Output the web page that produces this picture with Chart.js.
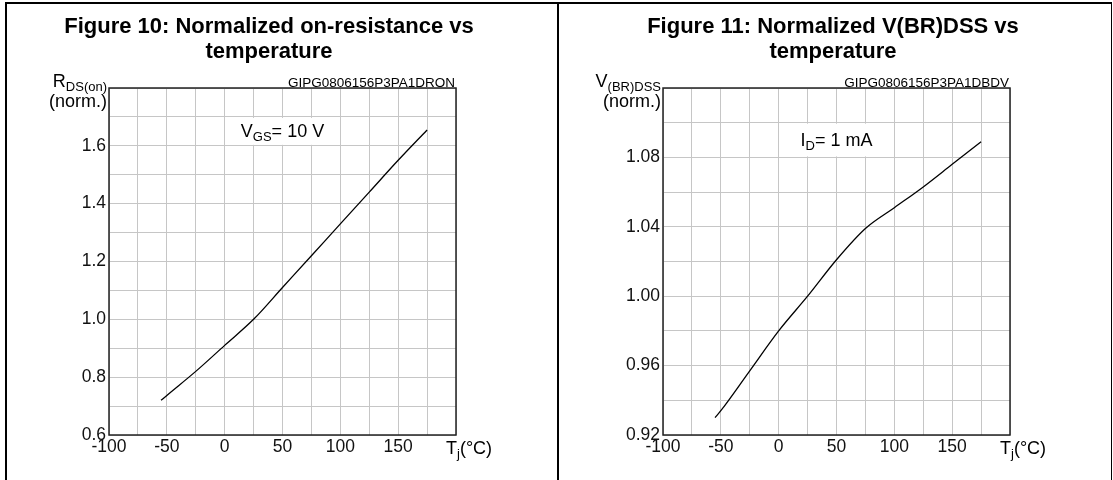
<!DOCTYPE html>
<html>
<head>
<meta charset="utf-8">
<script src="https://cdn.jsdelivr.net/npm/chart.js@4.4.1/dist/chart.umd.min.js"></script>
<style>
    body { margin: 0; background: #fff; width: 1113px; height: 480px; overflow: hidden; position: relative; }
    .panel { position: absolute; top: 0; height: 480px; }
    #frame { position: absolute; left: 5px; top: 2px; width: 1107px; height: 500px; border: 2px solid #000; border-right-width: 1px; box-sizing: border-box; }
    #divider { position: absolute; left: 557px; top: 2px; width: 2px; height: 480px; background: #000; }
</style>
</head>
<body>
<div class="panel" style="left:0;width:556px"><canvas id="chart10" width="556" height="480"></canvas></div>
<div class="panel" style="left:556px;width:557px"><canvas id="chart11" width="557" height="480"></canvas></div>
<div id="frame"></div>
<div id="divider"></div>
<script>
// Figure 10 – normalized on-resistance
const tempRds = [-55, -50, -25, 0, 25, 50, 75, 100, 125, 150, 175];
const rdsNorm = [0.72, 0.737, 0.82, 0.91, 1.0, 1.11, 1.22, 1.33, 1.44, 1.55, 1.655];
const rdsTicks = [0.6, 0.8, 1.0, 1.2, 1.4, 1.6];

// Figure 11 – normalized V(BR)DSS
const tempBv = [-55, -50, -25, 0, 25, 50, 75, 100, 125, 150, 175];
const bvNorm = [0.930, 0.934, 0.957, 0.980, 1.000, 1.021, 1.039, 1.051, 1.063, 1.076, 1.089];
const bvTicks = [0.92, 0.96, 1.00, 1.04, 1.08];

const tempTicks = [-100, -50, 0, 50, 100, 150];

const FONT = '"Liberation Sans", Arial, sans-serif';

function drawSub(ctx, x, y, main, sub, rest, size, align) {
    ctx.font = size + 'px ' + FONT;
    const w1 = ctx.measureText(main).width;
    const subSize = Math.round(size * 0.7);
    ctx.font = subSize + 'px ' + FONT;
    const w2 = ctx.measureText(sub).width;
    ctx.font = size + 'px ' + FONT;
    const w3 = ctx.measureText(rest).width;
    const total = w1 + w2 + w3;
    let sx = x;
    if (align === 'right') sx = x - total;
    if (align === 'center') sx = x - total / 2;
    ctx.textAlign = 'left';
    ctx.textBaseline = 'alphabetic';
    ctx.fillText(main, sx, y);
    ctx.font = subSize + 'px ' + FONT;
    ctx.fillText(sub, sx + w1, y + size * 0.22);
    ctx.font = size + 'px ' + FONT;
    ctx.fillText(rest, sx + w1 + w2, y);
}

function makeExtras(opts) {
    return {
        id: 'extras',
        beforeDatasetsDraw(chart) {
            const { ctx, scales: { x, y } } = chart;
            // white box behind the condition label
            const bx1 = x.getPixelForValue(0), bx2 = x.getPixelForValue(100);
            const by1 = y.getPixelForValue(opts.boxTop), by2 = y.getPixelForValue(opts.boxBottom);
            ctx.save();
            ctx.fillStyle = '#fff';
            ctx.fillRect(bx1 + 1, by1 + 1, bx2 - bx1 - 2, by2 - by1 - 2);
            ctx.fillStyle = '#000';
            drawSub(ctx, (bx1 + bx2) / 2, (by1 + by2) / 2 + 6, opts.boxText[0], opts.boxText[1], opts.boxText[2], 18, 'center');
            ctx.restore();
        },
        afterDraw(chart) {
            const { ctx, chartArea: a } = chart;
            ctx.save();
            // plot frame
            ctx.strokeStyle = '#222';
            ctx.lineWidth = 1.5;
            ctx.strokeRect(a.left, a.top, a.right - a.left, a.bottom - a.top);
            // title
            ctx.fillStyle = '#000';
            ctx.font = 'bold 22px ' + FONT;
            ctx.textAlign = 'center';
            ctx.textBaseline = 'alphabetic';
            ctx.fillText(opts.title[0], opts.titleX, 33);
            ctx.fillText(opts.title[1], opts.titleX, 58);
            // code label
            ctx.font = '13.5px ' + FONT;
            ctx.textAlign = 'right';
            ctx.fillText(opts.code, a.right - 1, a.top - 1);
            // y-axis label
            drawSub(ctx, a.left - 2, a.top - 1, opts.yLabel[0], opts.yLabel[1], '', 18, 'right');
            ctx.font = '18px ' + FONT;
            ctx.textAlign = 'right';
            ctx.fillText('(norm.)', a.left - 2, a.top + 19);
            // x-axis label
            drawSub(ctx, a.right - 10, a.bottom + 19, 'T', 'j', '(°C)', 18, 'left');
            ctx.restore();
        }
    };
}

function makeChart(id, temps, values, yMin, yMax, yStep, yLabels, decimals, padRight, opts) {
    const ctx = document.getElementById(id).getContext('2d');
    return new Chart(ctx, {
        type: 'scatter',
        data: {
            datasets: [{
                data: temps.map((t, i) => ({ x: t, y: values[i] })),
                showLine: true,
                borderColor: '#000',
                borderWidth: 1.3,
                pointRadius: 0,
                cubicInterpolationMode: 'monotone'
            }]
        },
        options: {
            responsive: false,
            animation: false,
            devicePixelRatio: 1,
            layout: { padding: { left: opts.padLeft, right: padRight, top: 88, bottom: 20 } },
            plugins: { legend: { display: false }, tooltip: { enabled: false } },
            scales: {
                x: {
                    type: 'linear',
                    min: -100, max: 200,
                    afterFit: s => { s.height = 25; },
                    grid: { color: '#c6c6c6', lineWidth: 1, drawTicks: false },
                    border: { display: false },
                    ticks: {
                        stepSize: 25, autoSkip: false, maxRotation: 0, padding: 2,
                        color: '#111', font: { family: FONT, size: 17.5 },
                        callback: v => tempTicks.includes(v) ? String(v) : ''
                    }
                },
                y: {
                    min: yMin, max: yMax,
                    afterFit: s => { s.width = 50; },
                    grid: { color: '#c6c6c6', lineWidth: 1, drawTicks: false },
                    border: { display: false },
                    ticks: {
                        stepSize: yStep, autoSkip: false, padding: 3,
                        color: '#111', font: { family: FONT, size: 17.5 },
                        callback: v => {
                            const hit = yLabels.find(l => Math.abs(l - v) < 1e-6);
                            return hit === undefined ? '' : hit.toFixed(decimals);
                        }
                    }
                }
            }
        },
        plugins: [makeExtras(opts)]
    });
}

makeChart('chart10', tempRds, rdsNorm, 0.6, 1.8, 0.1, rdsTicks, 1, 100, {
    padLeft: 59,
    title: ['Figure 10: Normalized on-resistance vs', 'temperature'],
    titleX: 269,
    code: 'GIPG0806156P3PA1DRON',
    yLabel: ['R', 'DS(on)'],
    boxTop: 1.7, boxBottom: 1.6,
    boxText: ['V', 'GS', '= 10 V']
});

makeChart('chart11', tempBv, bvNorm, 0.92, 1.12, 0.02, bvTicks, 2, 103, {
    padLeft: 57,
    title: ['Figure 11: Normalized V(BR)DSS vs', 'temperature'],
    titleX: 277,
    code: 'GIPG0806156P3PA1DBDV',
    yLabel: ['V', '(BR)DSS'],
    boxTop: 1.10, boxBottom: 1.08,
    boxText: ['I', 'D', '= 1 mA']
});
</script>
</body>
</html>
